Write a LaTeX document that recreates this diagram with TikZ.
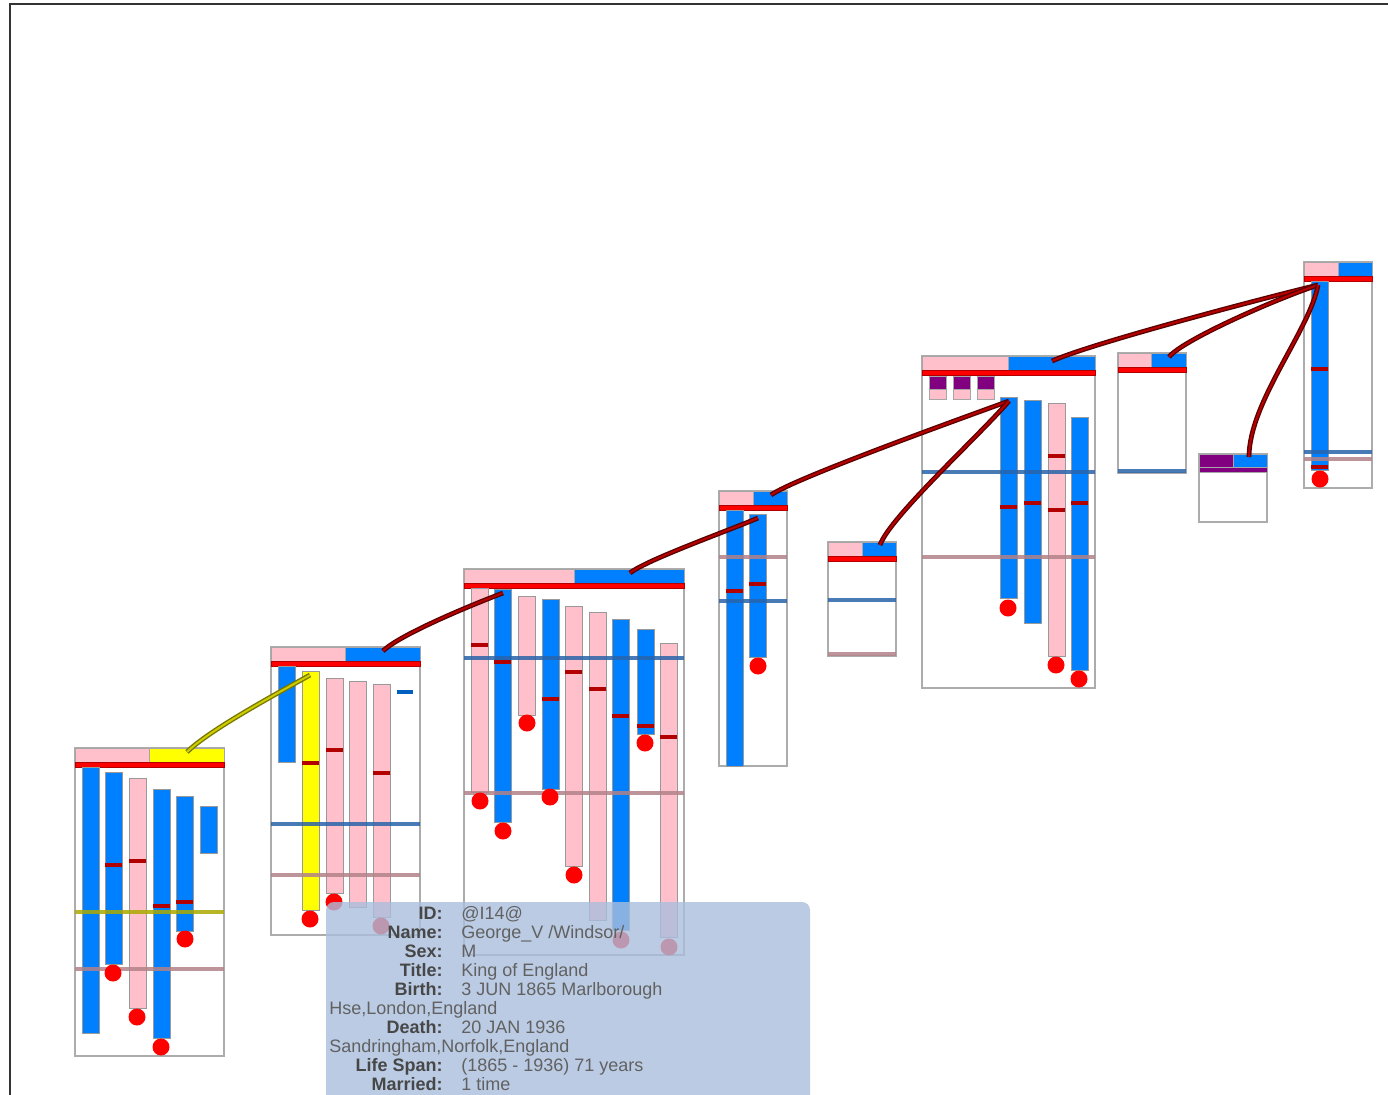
\documentclass[tikz,border=0pt]{standalone}
\usepackage{fontspec}
\setsansfont{Liberation Sans}

\definecolor{mblue}{RGB}{0,128,255}
\definecolor{fpink}{RGB}{255,192,203}
\definecolor{myel}{RGB}{255,255,0}
\definecolor{mpurple}{RGB}{128,0,128}
\definecolor{divline}{RGB}{40,100,170}
\definecolor{wedline}{RGB}{178,130,136}
\definecolor{oliveline}{RGB}{170,170,0}
\definecolor{tipfill}{RGB}{170,190,220}

% header of a family box: x left, x middle, x right, top, left fill, right fill
\newcommand{\famhdr}[6]{%
  \draw[hdr, fill=#5] (#1,#4) rectangle (#2,#4+14);
  \draw[hdr, fill=#6] (#2,#4) rectangle (#3,#4+14);
  \draw[wedbar] (#1,#4+14) rectangle (#3,#4+19);}

\begin{document}
\begin{tikzpicture}[x=0.5pt, y=-0.5pt]
        \tikzset{
          fam/.style={draw=gray!65, line width=0.8pt, fill=white},
          hdr/.style={draw=gray!70, line width=0.3pt},
          wedbar/.style={fill=red, draw=red!70!black, line width=0.3pt},
          life/.style={draw=gray!80, line width=0.35pt},
          evt/.style={draw=red!70!black, line width=1.6pt},
          death/.style={fill=red},
          rule/.style={line width=1.6pt, draw opacity=0.85},
          link/.style={draw=red!35!black, double=red!72!black, line width=0.7pt, double distance=1pt},
          ylink/.style={draw={rgb,255:red,120;green,120;blue,0}, double={rgb,255:red,205;green,205;blue,0}, line width=0.7pt, double distance=1pt},
          tiplbl/.style={anchor=base east, inner sep=0pt, font=\sffamily\bfseries\fontsize{9}{9}\selectfont, text=black!72},
          tipval/.style={anchor=base west, inner sep=0pt, font=\sffamily\fontsize{9}{9}\selectfont, text=black!62}
        }
        \useasboundingbox (0,0) rectangle (1388,1094);
        \clip (0,0) rectangle (1388,1094);
        \draw[gray!40!black, line width=1pt] (10,1100) -- (10,4) -- (1395,4);

        % family A
        \draw[fam] (75,748) rectangle (224,1056);
        \famhdr{75}{149}{224}{748}{fpink}{myel}
        \foreach \x/\t/\b/\c in {82/767/1033/mblue, 105/772/964/mblue, 129/778/1008/fpink, 153/789/1038/mblue, 176/796/931/mblue, 200/806/853/mblue}
          \draw[life, fill=\c] (\x,\t) rectangle (\x+17,\b);
        \draw[rule, draw=oliveline] (75,912) -- (224,912);
        \draw[rule, draw=wedline] (75,969) -- (224,969);
        \foreach \x/\y in {105/865, 129/861, 153/906, 176/902}
          \draw[evt] (\x,\y) -- (\x+17,\y);
        \foreach \x/\y in {113/973, 137/1017, 161/1047, 185/939}
          \fill[death] (\x,\y) circle[radius=4.25pt];

        % family B
        \draw[fam] (271,647) rectangle (420,935);
        \famhdr{271}{345}{420}{647}{fpink}{mblue}
        \foreach \x/\t/\b/\c in {278/666/762/mblue, 302/671/910/myel, 326/678/893/fpink, 349/681/907/fpink, 373/684/917/fpink}
          \draw[life, fill=\c] (\x,\t) rectangle (\x+17,\b);
        \draw[line width=1.6pt, mblue!75!black] (397,692) -- (413,692);
        \draw[rule, draw=divline] (271,824) -- (420,824);
        \draw[rule, draw=wedline] (271,875) -- (420,875);
        \foreach \x/\y in {302/763, 326/750, 373/773}
          \draw[evt] (\x,\y) -- (\x+17,\y);
        \foreach \x/\y in {310/919, 334/902, 381/926}
          \fill[death] (\x,\y) circle[radius=4.25pt];

        % family C
        \draw[fam] (464,569) rectangle (684,955);
        \famhdr{464}{574}{684}{569}{fpink}{mblue}
        \foreach \x/\t/\b/\c in {471/588/792/fpink, 494/589/822/mblue, 518/596/715/fpink, 542/599/789/mblue, 565/606/866/fpink, 589/612/920/fpink, 612/619/930/mblue, 637/629/734/mblue, 660/643/937/fpink}
          \draw[life, fill=\c] (\x,\t) rectangle (\x+17,\b);
        \draw[rule, draw=divline] (464,658) -- (684,658);
        \draw[rule, draw=wedline] (464,793) -- (684,793);
        \foreach \x/\y in {471/645, 494/662, 542/699, 565/672, 589/689, 612/716, 637/726, 660/737}
          \draw[evt] (\x,\y) -- (\x+17,\y);
        \foreach \x/\y in {480/801, 503/831, 527/723, 550/797, 574/875, 621/940, 645/743, 669/947}
          \fill[death] (\x,\y) circle[radius=4.25pt];

        % family D
        \draw[fam] (719,491) rectangle (787,766);
        \famhdr{719}{753}{787}{491}{fpink}{mblue}
        \foreach \x/\t/\b/\c in {726/510/766/mblue, 749/514/657/mblue}
          \draw[life, fill=\c] (\x,\t) rectangle (\x+17,\b);
        \draw[rule, draw=wedline] (719,557) -- (787,557);
        \draw[rule, draw=divline] (719,601) -- (787,601);
        \foreach \x/\y in {726/591, 749/584}
          \draw[evt] (\x,\y) -- (\x+17,\y);
        \fill[death] (758,666) circle[radius=4.25pt];

        % family E
        \draw[fam] (828,542) rectangle (896,656);
        \famhdr{828}{862}{896}{542}{fpink}{mblue}
        \draw[rule, draw=divline] (828,600) -- (896,600);
        \draw[rule, draw=wedline] (828,654) -- (896,654);

        % family F
        \draw[fam] (922,356) rectangle (1095,688);
        \famhdr{922}{1008}{1095}{356}{fpink}{mblue}
        \foreach \x in {929, 953, 977} {
          \draw[hdr, fill=mpurple] (\x,376) rectangle (\x+17,389);
          \draw[hdr, fill=fpink] (\x,389) rectangle (\x+17,399);
        }
        \foreach \x/\t/\b/\c in {1000/397/598/mblue, 1024/400/623/mblue, 1048/403/656/fpink, 1071/417/670/mblue}
          \draw[life, fill=\c] (\x,\t) rectangle (\x+17,\b);
        \draw[rule, draw=divline] (922,472) -- (1095,472);
        \draw[rule, draw=wedline] (922,557) -- (1095,557);
        \foreach \x/\y in {1000/507, 1024/503, 1048/456, 1048/510, 1071/503}
          \draw[evt] (\x,\y) -- (\x+17,\y);
        \foreach \x/\y in {1008/608, 1056/665, 1079/679}
          \fill[death] (\x,\y) circle[radius=4.25pt];

        % family G
        \draw[fam] (1118,353) rectangle (1186,473);
        \famhdr{1118}{1151}{1186}{353}{fpink}{mblue}
        \draw[rule, draw=divline] (1118,471) -- (1186,471);

        % family H
        \draw[fam] (1199,454) rectangle (1267,522);
        \draw[hdr, fill=mpurple] (1199,454) rectangle (1233,467);
        \draw[hdr, fill=mblue] (1233,454) rectangle (1267,467);
        \draw[hdr, fill=mpurple] (1199,467) rectangle (1267,472);

        % family I
        \draw[fam] (1304,262) rectangle (1372,488);
        \famhdr{1304}{1338}{1372}{262}{fpink}{mblue}
        \draw[life, fill=mblue] (1311,281) rectangle (1328,470);
        \draw[rule, draw=divline] (1304,452) -- (1372,452);
        \draw[rule, draw=wedline] (1304,459) -- (1372,459);
        \foreach \y in {369, 467}
          \draw[evt] (1311,\y) -- (1328,\y);
        \fill[death] (1320,479) circle[radius=4.25pt];

        % ends of the links
        \coordinate (hA) at (187,752);  \coordinate (tB) at (310,675);
        \coordinate (hB) at (383,651);  \coordinate (tC) at (503,593);
        \coordinate (hC) at (630,573);  \coordinate (tD) at (758,518);
        \coordinate (hD) at (771,495);  \coordinate (hE) at (880,545);
        \coordinate (tF) at (1009,401); \coordinate (hF) at (1052,361);
        \coordinate (hG) at (1169,357); \coordinate (hH) at (1249,457);
        \coordinate (tI) at (1318,285);

        \draw[ylink] (hA) .. controls +(22,-22) and +(-32,18) .. (tB);
        \draw[link] (hB) .. controls +(16,-16) and +(-32,12) .. (tC);
        \draw[link] (hC) .. controls +(16,-13) and +(-28,12) .. (tD);
        \draw[link] (hD) .. controls +(22,-16) and +(-55,20) .. (tF);
        \draw[link] (hE) .. controls +(10,-28) and +(-30,35) .. (tF);
        \draw[link] (hF) .. controls +(40,-18) and +(-50,12) .. (tI);
        \draw[link] (hG) .. controls +(12,-16) and +(-45,15) .. (tI);
        \draw[link] (hH) .. controls +(0,-55) and +(-8,45) .. (tI);

        % person popup
        \fill[tipfill, fill opacity=0.8, rounded corners=4pt] (326,902) rectangle (810,1120);
        \foreach \i/\l in {0/ID, 1/Name, 2/Sex, 3/Title, 4/Birth, 6/Death, 8/Life Span, 9/Married}
          \node[tiplbl] (l\i) at (443,919.5+19*\i) {\l:};
        \node[tipval] (v0) at (461,919.5) {@I14@};
        \node[tipval] (v1) at (461,938.5) {George\_V /Windsor/};
        \node[tipval] (v2) at (461,957.5) {M};
        \node[tipval] (v3) at (461,976.5) {King of England};
        \node[tipval] (v4) at (461,995.5) {3 JUN 1865 Marlborough};
        \node[tipval] (v5) at (329,1014.5) {Hse,London,England};
        \node[tipval] (v6) at (461,1033.5) {20 JAN 1936};
        \node[tipval] (v7) at (329,1052.5) {Sandringham,Norfolk,England};
        \node[tipval] (v8) at (461,1071.5) {(1865 - 1936) 71 years};
        \node[tipval] (v9) at (461,1090.5) {1 time};
    \end{tikzpicture}
\end{document}
